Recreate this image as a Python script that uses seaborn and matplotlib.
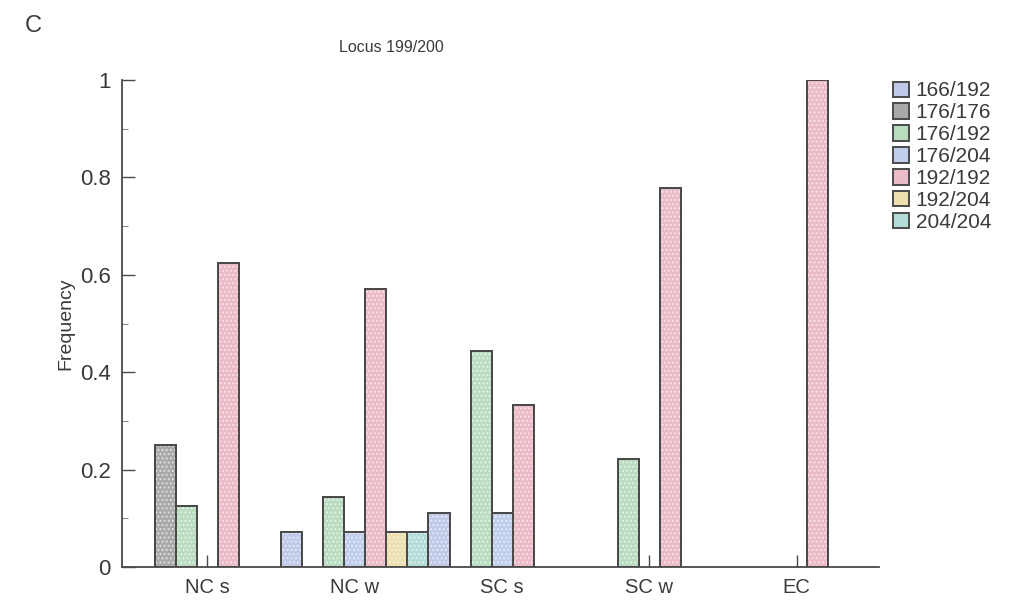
import numpy as np
import pandas as pd
import matplotlib
matplotlib.use("Agg")
import matplotlib.pyplot as plt
from matplotlib.patches import Rectangle
from matplotlib.ticker import MultipleLocator
import seaborn as sns

# Genotype frequencies at locus 199/200 by population
populations = ["NC s", "NC w", "SC s", "SC w", "EC"]
genotypes = ["166/192", "176/176", "176/192", "176/204", "192/192", "192/204", "204/204"]

freq_166_192 = [0.0, 0.071, 0.111, 0.0, 0.0]
freq_176_176 = [0.250, 0.0, 0.0, 0.0, 0.0]
freq_176_192 = [0.125, 0.143, 0.444, 0.222, 0.0]
freq_176_204 = [0.0, 0.071, 0.111, 0.0, 0.0]
freq_192_192 = [0.625, 0.571, 0.333, 0.778, 1.0]
freq_192_204 = [0.0, 0.071, 0.0, 0.0, 0.0]
freq_204_204 = [0.0, 0.071, 0.0, 0.0, 0.0]

series = [freq_166_192, freq_176_176, freq_176_192, freq_176_204,
          freq_192_192, freq_192_204, freq_204_204]

colors = ["#b9c6ee", "#a9a9a9", "#b3e2bd", "#b9cbf2",
          "#f3b3c3", "#f8e5a4", "#ade3dc"]

rows = []
for g, vals in zip(genotypes, series):
    for p, v in zip(populations, vals):
        if v > 0:
            rows.append({"population": p, "genotype": g, "frequency": v})
df = pd.DataFrame(rows)

sns.set_style("white")
plt.rcParams["font.family"] = ["Liberation Sans", "DejaVu Sans"]
text_col = "#3a3a3a"
line_col = "#4a4a4a"

fig = plt.figure(figsize=(10.11, 6.08), dpi=100)
ax = fig.add_axes([0.1207, 0.0674, 0.749, 0.801])

sns.barplot(data=df, x="population", y="frequency", hue="genotype",
            order=populations, hue_order=genotypes, palette=colors,
            width=1.0, gap=0, edgecolor=line_col, linewidth=1.4,
            errorbar=None, ax=ax)

# light speckled texture on top of each bar
for bar in list(ax.patches):
    if bar.get_height() > 0:
        ax.add_patch(Rectangle(bar.get_xy(), bar.get_width(), bar.get_height(),
                               facecolor="none", edgecolor="white",
                               hatch="....", linewidth=0, alpha=0.55,
                               zorder=bar.get_zorder() + 0.1))
        ax.add_patch(Rectangle(bar.get_xy(), bar.get_width(), bar.get_height(),
                               facecolor="none", edgecolor=line_col,
                               linewidth=1.4, zorder=bar.get_zorder() + 0.2))

ax.set_axisbelow(True)
ax.set_xlim(-0.58, 4.56)
ax.set_ylim(0, 1)
ax.yaxis.set_major_locator(MultipleLocator(0.2))
ax.yaxis.set_minor_locator(MultipleLocator(0.1))
ax.set_yticks([0, 0.2, 0.4, 0.6, 0.8, 1.0])
ax.set_yticklabels(["0", "0.2", "0.4", "0.6", "0.8", "1"])

for side in ["top", "right"]:
    ax.spines[side].set_visible(False)
for side in ["left", "bottom"]:
    ax.spines[side].set_color(line_col)
    ax.spines[side].set_linewidth(1.3)

ax.tick_params(axis="y", which="both", left=True)
ax.tick_params(axis="x", which="major", bottom=True)
ax.tick_params(axis="y", which="major", direction="in", length=9, width=1,
               color=line_col, labelsize=16, labelcolor=text_col, pad=8)
ax.tick_params(axis="y", which="minor", direction="in", length=4, width=0.8,
               color="#888888")
ax.tick_params(axis="x", which="major", direction="in", length=9, width=1,
               color=line_col, labelsize=14.5, labelcolor=text_col, pad=8)

ax.set_xlabel("")
ax.set_ylabel("Frequency", fontsize=14, color=text_col, labelpad=4)

handles, labels = ax.get_legend_handles_labels()
ax.legend(handles, labels, loc="upper left", bbox_to_anchor=(0.883, 0.866),
          bbox_transform=fig.transFigure, frameon=False, fontsize=15,
          handlelength=0.8, handleheight=0.75, handletextpad=0.3,
          labelspacing=0.14, borderaxespad=0, borderpad=0,
          labelcolor=text_col)

fig.text(0.387, 0.922, "Locus 199/200", fontsize=11.5, color=text_col,
         ha="center", va="center")
fig.text(0.024, 0.958, "C", fontsize=17, color=text_col, ha="left", va="center")

fig.savefig("out.png", dpi=100, facecolor="white")
